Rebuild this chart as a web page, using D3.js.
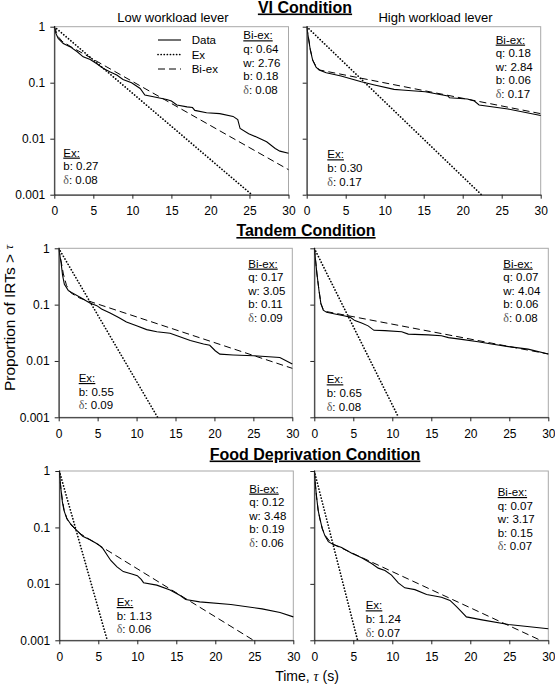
<!DOCTYPE html>
<html><head><meta charset="utf-8">
<script src="https://cdn.jsdelivr.net/npm/d3@7"></script>
<style>body{margin:0;background:#fff}svg{display:block}</style>
</head><body><svg id="c" width="555" height="686"></svg>
<script>
// ---------- data ----------
const xTicks = [0, 5, 10, 15, 20, 25, 30];
const yTicks = [1, 0.1, 0.01, 0.001];
const conditionTitles = ["VI Condition", "Tandem Condition", "Food Deprivation Condition"];
const leverTitles = ["Low workload lever", "High workload lever"];
const legendLabels = ["Data", "Ex", "Bi-ex"];
const yAxisLabel = "Proportion of IRTs > ";
const xAxisLabel = "Time, ";

// [tau (s), proportion of IRTs > tau]
const viLowData = [[0,1],[0.2,0.76],[0.5,0.62],[1.15,0.5],[2,0.44],[2.9,0.36],[3.7,0.29],[4.6,0.26],[5.4,0.22],[6.3,0.18],[7.1,0.157],[8,0.137],[8.8,0.114],[9.9,0.1],[11,0.079],[11.6,0.06],[12.7,0.056],[14.4,0.05],[15,0.047],[15.7,0.04],[17,0.037],[17.7,0.036],[18,0.032],[19.5,0.029],[21.2,0.028],[22.9,0.025],[23.5,0.022],[23.8,0.0152],[24.9,0.0123],[25.9,0.0107],[27.2,0.0088],[28.3,0.0067],[28.9,0.006],[30,0.0055]];
const viLowBiex = [[0,1],[0.3,0.78],[0.6,0.64],[1,0.55],[2,0.45],[30,0.0028]];
const viLowEx = [[0,1],[25.3,0.001]];
const viLowBiexParams = [["q","0.64"],["w","2.76"],["b","0.18"],["δ","0.08"]];
const viLowExParams = [["b","0.27"],["δ","0.08"]];

const viHighData = [[0,1],[0.26,0.58],[0.47,0.38],[0.77,0.25],[1.2,0.19],[1.6,0.168],[2.5,0.15],[4.4,0.132],[7,0.104],[8.7,0.091],[11.2,0.076],[12.2,0.074],[15.2,0.069],[18.1,0.058],[18.3,0.054],[20.6,0.051],[21.5,0.047],[22.1,0.04],[25.8,0.034],[30,0.026]];
const viHighBiex = [[0,1],[0.26,0.6],[0.47,0.39],[0.77,0.255],[1.2,0.195],[1.7,0.168],[30,0.028]];
const viHighEx = [[0,1],[22.4,0.001]];
const viHighBiexParams = [["q","0.18"],["w","2.84"],["b","0.06"],["δ","0.17"]];
const viHighExParams = [["b","0.30"],["δ","0.17"]];

const tandemLowData = [[0,1],[0.3,0.56],[0.5,0.33],[0.73,0.23],[1.24,0.177],[2.74,0.135],[4,0.107],[4.9,0.096],[5.5,0.084],[6.6,0.071],[7.7,0.059],[8.7,0.049],[10,0.042],[11.3,0.036],[12.6,0.033],[14.3,0.031],[15.2,0.028],[16.9,0.023],[18.6,0.02],[19.4,0.019],[20.1,0.0152],[20.7,0.0132],[22.4,0.0128],[25,0.0124],[28.4,0.0115],[30,0.0088]];
const tandemLowBiex = [[0,1],[0.3,0.6],[0.6,0.35],[1,0.22],[1.5,0.165],[2,0.148],[2.74,0.13],[30,0.0074]];
const tandemLowEx = [[0,1],[12.7,0.001]];
const tandemLowBiexParams = [["q","0.17"],["w","3.05"],["b","0.11"],["δ","0.09"]];
const tandemLowExParams = [["b","0.55"],["δ","0.09"]];

const tandemHighData = [[0,1],[0.17,0.6],[0.34,0.35],[0.6,0.178],[0.85,0.103],[1.15,0.08],[1.58,0.073],[2.65,0.068],[3.93,0.063],[4.57,0.06],[5.2,0.052],[6.07,0.047],[6.9,0.042],[7.65,0.035],[9.06,0.0346],[11.2,0.033],[12.05,0.03],[14.6,0.029],[16.3,0.028],[17.2,0.026],[18.9,0.0242],[21,0.022],[22.7,0.02],[24.9,0.018],[27.4,0.0162],[30,0.0133]];
const tandemHighBiex = [[0,1],[0.17,0.6],[0.34,0.35],[0.6,0.18],[0.85,0.105],[1.15,0.082],[1.4,0.076],[30,0.0133]];
const tandemHighEx = [[0,1],[10.8,0.001]];
const tandemHighBiexParams = [["q","0.07"],["w","4.04"],["b","0.06"],["δ","0.08"]];
const tandemHighExParams = [["b","0.65"],["δ","0.08"]];

const foodLowData = [[0,1],[0.2,0.49],[0.4,0.28],[0.6,0.2],[0.95,0.145],[1.45,0.115],[2.2,0.09],[3,0.07],[4,0.06],[5,0.05],[5.6,0.042],[6.3,0.03],[6.6,0.026],[7.4,0.02],[8.2,0.0165],[9.3,0.015],[10,0.014],[10.5,0.012],[10.8,0.0105],[12.5,0.0095],[14.2,0.0078],[15.5,0.0062],[16.2,0.0053],[18,0.0048],[22,0.0043],[26,0.0036],[28.3,0.0031],[30,0.0026]];
const foodLowBiex = [[0,1],[0.2,0.5],[0.4,0.3],[0.6,0.21],[1,0.14],[1.5,0.11],[2.65,0.078],[24.9,0.001]];
const foodLowEx = [[0,1],[6.15,0.001]];
const foodLowBiexParams = [["q","0.12"],["w","3.48"],["b","0.19"],["δ","0.06"]];
const foodLowExParams = [["b","1.13"],["δ","0.06"]];

const foodHighData = [[0,1],[0.13,0.59],[0.3,0.34],[0.5,0.198],[0.73,0.141],[1.03,0.094],[1.37,0.071],[1.8,0.056],[2.44,0.05],[3.5,0.044],[4.8,0.035],[6.07,0.029],[7.35,0.023],[8.2,0.019],[9.06,0.0173],[9.9,0.0143],[10.77,0.0104],[11.6,0.0085],[12.9,0.0079],[14.4,0.0065],[16.3,0.0058],[17.4,0.0051],[18.2,0.004],[18.7,0.0034],[19.5,0.0026],[21.5,0.0023],[24.9,0.0019],[30,0.0016]];
const foodHighBiex = [[0,1],[0.13,0.59],[0.3,0.34],[0.5,0.2],[0.73,0.14],[1.03,0.095],[1.4,0.072],[2.2,0.052],[29,0.001]];
const foodHighEx = [[0,1],[5.55,0.001]];
const foodHighBiexParams = [["q","0.07"],["w","3.17"],["b","0.15"],["δ","0.07"]];
const foodHighExParams = [["b","1.24"],["δ","0.07"]];

// ---------- layout ----------
const SANS = "Arial, 'Liberation Sans', sans-serif";
const SERIF = "'Times New Roman', 'Liberation Serif', serif";
const panels = [
  {data: viLowData, biex: viLowBiex, ex: viLowEx, bp: viLowBiexParams, ep: viLowExParams,
   box: [54.3, 288.5, 26.7, 194.7], labels: true, bx: 243.3, by: 39.3, ex0: 63.3, ey: 156.6, legend: true},
  {data: viHighData, biex: viHighBiex, ex: viHighEx, bp: viHighBiexParams, ep: viHighExParams,
   box: [306.7, 540.7, 26.7, 194.7], labels: false, bx: 495.7, by: 43.6, ex0: 327.3, ey: 158.3},
  {data: tandemLowData, biex: tandemLowBiex, ex: tandemLowEx, bp: tandemLowBiexParams, ep: tandemLowExParams,
   box: [58.7, 292.3, 248.3, 417.3], labels: true, bx: 248.3, by: 267.6, ex0: 78.7, ey: 382},
  {data: tandemHighData, biex: tandemHighBiex, ex: tandemHighEx, bp: tandemHighBiexParams, ep: tandemHighExParams,
   box: [314.3, 548.3, 248.3, 417.3], labels: false, bx: 503.3, by: 267.6, ex0: 326.7, ey: 383.3},
  {data: foodLowData, biex: foodLowBiex, ex: foodLowEx, bp: foodLowBiexParams, ep: foodLowExParams,
   box: [59.3, 293.3, 471, 640.3], labels: true, bx: 249.3, by: 492.6, ex0: 116.7, ey: 606},
  {data: foodHighData, biex: foodHighBiex, ex: foodHighEx, bp: foodHighBiexParams, ep: foodHighExParams,
   box: [314.3, 548.3, 471, 640.3], labels: false, bx: 497.7, by: 496, ex0: 365.7, ey: 609.3}
];
const titlePos = [[305, 12.5], [306, 236], [315, 459.5]];
const leverPos = [[173, 21.7], [435.5, 21.7]];

const svg = d3.select("#c");
svg.append("rect").attr("width", 555).attr("height", 686).attr("fill", "#fff");

// titles
conditionTitles.forEach((t, i) => {
  svg.append("text").attr("x", titlePos[i][0]).attr("y", titlePos[i][1])
    .attr("text-anchor", "middle").attr("font-family", SANS).attr("font-size", 16)
    .attr("font-weight", "bold").attr("text-decoration", "underline").text(t);
});
leverTitles.forEach((t, i) => {
  svg.append("text").attr("x", leverPos[i][0]).attr("y", leverPos[i][1])
    .attr("text-anchor", "middle").attr("font-family", SANS).attr("font-size", 13).text(t);
});

const LH = 13.6;
function paramBlock(g, x, y, head, params) {
  const t = g.append("text").attr("font-family", SANS).attr("font-size", 11.5).attr("fill", "#000");
  t.append("tspan").attr("x", x).attr("y", y).attr("text-decoration", "underline").text(head);
  params.forEach((p, i) => {
    const yy = y + LH * (i + 1);
    if (p[0] === "δ") {
      t.append("tspan").attr("x", x).attr("y", yy).attr("font-family", SERIF).attr("fill", "#555").attr("font-size", 12).text("δ");
      t.append("tspan").text(": " + p[1]);
    } else {
      t.append("tspan").attr("x", x).attr("y", yy).text(p[0] + ": " + p[1]);
    }
  });
}

const styles = {
  data: {dash: null, w: 1.1, cap: "butt"},
  ex: {dash: "0.1,3", w: 1.7, cap: "round"},
  biex: {dash: "7,4", w: 1, cap: "butt"}
};

panels.forEach((p, k) => {
  const [L, R, T, B] = p.box;
  const x = d3.scaleLinear().domain([0, 30]).range([L, R]);
  const y = d3.scaleLog().domain([0.001, 1]).range([B, T]);
  const g = svg.append("g");
  const cid = "clip" + k;
  g.append("clipPath").attr("id", cid).append("rect")
    .attr("x", L).attr("y", T - 1).attr("width", R - L + 1).attr("height", B - T + 2);

  // frame (grey top/right)
  g.append("rect").attr("x", L).attr("y", T).attr("width", R - L).attr("height", B - T)
    .attr("fill", "none").attr("stroke", "#a8a8a8").attr("stroke-width", 1);

  const line = d3.line().x(d => x(d[0])).y(d => y(d[1]));
  const lg = g.append("g").attr("clip-path", `url(#${cid})`);
  [["biex", p.biex], ["ex", p.ex], ["data", p.data]].forEach(([k2, arr]) => {
    const s = styles[k2];
    lg.append("path").datum(arr).attr("d", line).attr("fill", "none")
      .attr("stroke", "#000").attr("stroke-width", s.w)
      .attr("stroke-linecap", s.cap).attr("stroke-dasharray", s.dash);
  });

  // axes
  const ya = d3.axisLeft(y).tickValues(yTicks).tickSize(4).tickSizeOuter(0).tickPadding(5)
    .tickFormat(p.labels ? (d => String(d)) : () => "");
  const xa = d3.axisBottom(x).tickValues(xTicks).tickSize(4).tickSizeOuter(0).tickPadding(8);
  const gy = g.append("g").attr("transform", `translate(${L},0)`).call(ya);
  const gx = g.append("g").attr("transform", `translate(0,${B})`).call(xa);
  [gx, gy].forEach(a => {
    a.selectAll("text").attr("font-family", SANS).attr("font-size", 12).attr("fill", "#000");
    a.selectAll("line").attr("stroke", "#222");
    a.select(".domain").attr("stroke", "#222");
  });

  paramBlock(g, p.bx, p.by, "Bi-ex:", p.bp);
  paramBlock(g, p.ex0, p.ey, "Ex:", p.ep);

  if (p.legend) {
    const keys = ["data", "ex", "biex"];
    const ly = [44, 58.5, 73];
    legendLabels.forEach((lab, i) => {
      const s = styles[keys[i]];
      g.append("line").attr("x1", 158).attr("x2", 181).attr("y1", ly[i] - 4).attr("y2", ly[i] - 4)
        .attr("stroke", "#000").attr("stroke-width", s.w).attr("stroke-linecap", s.cap)
        .attr("stroke-dasharray", s.dash);
      g.append("text").attr("x", 191.7).attr("y", ly[i]).attr("font-family", SANS)
        .attr("font-size", 11.5).text(lab);
    });
  }
});

// axis labels
const yl = svg.append("text").attr("transform", "translate(15,318) rotate(-90)")
  .attr("text-anchor", "middle").attr("font-family", SANS).attr("font-size", 15.5);
yl.append("tspan").text(yAxisLabel);
yl.append("tspan").attr("font-family", SERIF).attr("font-style", "italic").attr("font-size", 13).attr("dy", -2).text("τ");

const xl = svg.append("text").attr("x", 307).attr("y", 681)
  .attr("text-anchor", "middle").attr("font-family", SANS).attr("font-size", 14);
xl.append("tspan").text(xAxisLabel);
xl.append("tspan").attr("font-family", SERIF).attr("font-style", "italic").text("τ");
xl.append("tspan").text(" (s)");
</script>
</body></html>
